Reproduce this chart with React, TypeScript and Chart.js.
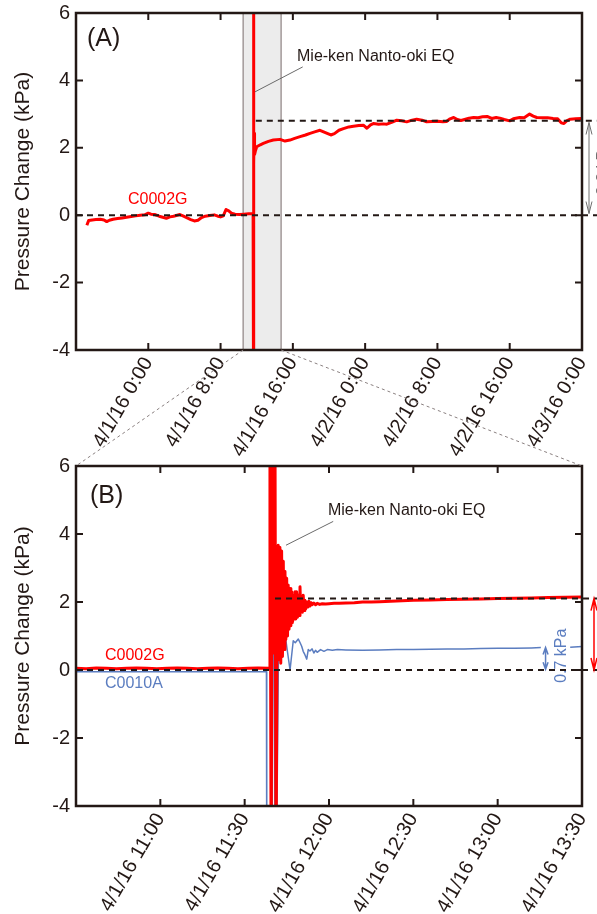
import React, { useEffect, useRef } from 'react';
import { Chart, registerables } from 'chart.js';

Chart.register(...registerables);

const FONT = "'Liberation Sans', Arial, Helvetica, sans-serif";
const INK = '#231815';
const RED = '#ff0000';
const BLUE = '#5b7dc0';
const GRAY = '#8a8080';

// ---------------- Panel (A): hours from 4/1/16 0:00 ----------------
const hoursA = [
  -6.8, -6.6, -6.2, -5.8, -5.3, -4.9, -4.6, -4.3, -3.9, -3.4,
  -2.9, -2.4, -1.9, -1.4, -0.9, -0.4, 0.0, 0.3, 0.7, 1.2,
  1.6, 2.0, 2.4, 2.8, 3.2, 3.5, 3.9, 4.3, 4.7, 5.1,
  5.5, 5.9, 6.3, 6.8, 7.3, 7.7, 8.0, 8.3, 8.6, 8.9,
  9.2, 9.6, 10.1, 10.6, 11.1, 11.6, 11.64, 11.65, 11.66, 11.67,
  11.68, 11.69, 11.72, 11.76, 11.85, 12.0, 12.4, 12.73, 13.3, 13.84,
  14.58, 15.13, 15.68, 16.2, 16.8, 17.4, 17.9, 18.5, 19.0, 19.6,
  20.2, 20.6, 21.1, 21.6, 22.2, 22.7, 23.3, 23.8, 24.2, 24.6,
  24.9, 25.5, 26.0, 26.4, 27.0, 27.5, 28.0, 28.6, 29.2, 29.7,
  30.3, 30.8, 31.4, 32.0, 32.6, 33.0, 33.4, 33.8, 34.2, 34.6,
  35.0, 35.5, 36.0, 36.5, 37.0, 37.5, 38.0, 38.5, 38.9, 39.4,
  40.0, 40.4, 41.1, 41.6, 42.2, 42.6, 43.0, 43.6, 44.2, 44.8,
  45.3, 45.7, 46.0, 46.3, 46.7, 47.3, 47.96,
];
const c0002gA = [
  -0.30, -0.16, -0.14, -0.13, -0.12, -0.14, -0.19, -0.15, -0.12, -0.10,
  -0.08, -0.06, -0.04, -0.02, 0.00, 0.01, 0.06, 0.03, 0.02, -0.03,
  -0.06, -0.09, -0.05, -0.03, 0.00, 0.02, -0.03, -0.08, -0.13, -0.17,
  -0.15, -0.07, -0.03, -0.01, 0.01, -0.03, -0.05, -0.02, 0.17, 0.13,
  0.06, 0.03, 0.02, 0.03, 0.04, 0.05, 0.05, 9.0, -7.0, 9.0,
  -7.0, 1.55, 2.43, 1.80, 1.90, 2.03, 2.09, 2.13, 2.19, 2.23,
  2.25, 2.20, 2.23, 2.28, 2.33, 2.38, 2.43, 2.48, 2.52, 2.45,
  2.38, 2.42, 2.52, 2.57, 2.62, 2.64, 2.66, 2.67, 2.58, 2.68,
  2.72, 2.70, 2.71, 2.70, 2.76, 2.82, 2.80, 2.77, 2.82, 2.85,
  2.82, 2.77, 2.78, 2.79, 2.77, 2.78, 2.86, 2.90, 2.84, 2.81,
  2.84, 2.88, 2.90, 2.89, 2.92, 2.93, 2.87, 2.90, 2.88, 2.84,
  2.80, 2.86, 2.90, 2.89, 3.00, 2.94, 2.90, 2.89, 2.89, 2.87,
  2.86, 2.74, 2.72, 2.80, 2.85, 2.86, 2.87,
];
const xRangeA = [-8, 48];
const xTicksA = [-8, 0, 8, 16, 24, 32, 40, 48];
const xTickLabelsA = ['', '4/1/16 0:00', '4/1/16 8:00', '4/1/16 16:00', '4/2/16 0:00', '4/2/16 8:00', '4/2/16 16:00', '4/3/16 0:00'];
const zoomWindowA = [10.5, 14.7];
const offsetLevelA = 2.8;

// ---------------- Panel (B): hours of day, 4/1/16 ----------------
const hoursB = [
  10.50, 10.56, 10.62, 10.68, 10.74, 10.80, 10.86, 10.92, 10.98, 11.04,
  11.10, 11.16, 11.22, 11.28, 11.34, 11.40, 11.46, 11.52, 11.58, 11.645,
  11.650, 11.657, 11.665, 11.672, 11.680, 11.686, 11.692,
  11.699, 11.704, 11.709, 11.714, 11.719, 11.724, 11.729, 11.734, 11.739, 11.744,
  11.749, 11.754, 11.758, 11.763, 11.769, 11.774, 11.779, 11.784, 11.788, 11.793,
  11.798, 11.803, 11.808, 11.813, 11.818, 11.823, 11.828, 11.833, 11.838, 11.843,
  11.847, 11.852, 11.857, 11.862, 11.868, 11.875, 11.881, 11.887, 11.894, 11.900,
  11.910, 11.920, 11.930, 11.945, 11.960, 11.980, 12.000, 12.030, 12.060, 12.100,
  12.150, 12.200, 12.250, 12.300, 12.400, 12.500, 12.600, 12.700, 12.800, 12.900,
  13.000, 13.100, 13.200, 13.300, 13.400, 13.500,
];
const c0002gB = [
  0.05, 0.04, 0.06, 0.05, 0.04, 0.05, 0.06, 0.05, 0.04, 0.05,
  0.06, 0.05, 0.04, 0.05, 0.06, 0.05, 0.04, 0.05, 0.06, 0.05,
  8.0, -6.0, 8.0, 0.5, 6.5, -6.0, 1.0,
  3.67, 0.30, 3.60, 0.20, 3.50, 0.40, 3.20, 0.60, 2.90, 0.90,
  2.70, 1.00, 2.50, 1.20, 2.40, 1.30, 2.30, 1.40, 2.20, 1.50,
  2.30, 1.50, 2.30, 1.55, 2.20, 1.60, 2.45, 1.70, 2.10, 1.70,
  2.20, 1.75, 2.05, 1.80, 2.00, 1.85, 2.02, 1.88, 1.98, 1.92,
  1.97, 1.92, 1.96, 1.93, 1.95, 1.94, 1.95, 1.96, 1.96, 1.97,
  1.98, 2.00, 2.00, 2.01, 2.03, 2.05, 2.06, 2.07, 2.08, 2.09,
  2.10, 2.11, 2.12, 2.13, 2.14, 2.15,
];
const hoursB2 = [
  10.50, 10.70, 10.90, 11.10, 11.30, 11.50, 11.629, 11.631, 11.662, 11.668,
  11.676, 11.680, 11.688, 11.700, 11.719, 11.739, 11.769, 11.788, 11.800, 11.818,
  11.828, 11.838, 11.847, 11.857, 11.868, 11.877, 11.887, 11.900, 11.910, 11.920,
  11.930, 11.950, 11.970, 11.990, 12.020, 12.050, 12.100, 12.200, 12.300, 12.400,
  12.500, 12.600, 12.700, 12.800, 12.900, 13.000, 13.100, 13.200, 13.256, 13.350,
  13.430, 13.500,
];
const c0010aB = [
  -0.05, -0.05, -0.05, -0.05, -0.05, -0.05, -0.05, -6.0, -6.0, 0.80,
  1.60, -6.0, -6.0, 0.27, 0.67, 1.06, 0.00, 0.86, 0.80, 0.91,
  0.81, 0.70, 0.55, 0.45, 0.32, 0.60, 0.56, 0.62, 0.50, 0.58,
  0.52, 0.60, 0.55, 0.60, 0.58, 0.60, 0.59, 0.58, 0.59, 0.60,
  0.60, 0.61, 0.62, 0.62, 0.63, 0.64, 0.64, 0.65, 0.66, null,
  0.67, 0.69,
];
const xRangeB = [10.5, 13.5];
const xTicksB = [10.5, 11, 11.5, 12, 12.5, 13, 13.5];
const xTickLabelsB = ['', '4/1/16 11:00', '4/1/16 11:30', '4/1/16 12:00', '4/1/16 12:30', '4/1/16 13:00', '4/1/16 13:30'];
const offsetLevelB = 2.1;
const levelB_A = 0.66;

const yRange = [-4, 6];
const yTicks = [-4, -2, 0, 2, 4, 6];
const yTickLabels = ['-4', '-2', '0', '2', '4', '6'];
const yTitle = 'Pressure Change (kPa)';
const eqLabel = 'Mie-ken Nanto-oki EQ';

const toPoints = (xs: number[], ys: (number | null)[]) => xs.map((x, i) => ({ x, y: ys[i] }));

type TextDeco = { text: string; x?: number; dxRight?: number; y: number; color: string; size: number; rotate?: boolean; align?: CanvasTextAlign };
type Deco = {
  letter: string;
  letterDx: number;
  letterDy: number;
  shade?: number[];
  dashes: { y: number; from?: number }[];
  texts: TextDeco[];
  leaders: number[][];
  arrows: { x?: number; dxRight?: number; y1: number; y2: number; color: string; width: number; head: number; half: number }[];
};

function drawArrow(ctx: CanvasRenderingContext2D, x: number, yTop: number, yBot: number, color: string, width: number, head: number, half: number) {
  ctx.save();
  ctx.strokeStyle = color;
  ctx.lineWidth = width;
  ctx.setLineDash([]);
  ctx.beginPath();
  ctx.moveTo(x, yTop);
  ctx.lineTo(x, yBot);
  ctx.moveTo(x - half, yTop + head);
  ctx.lineTo(x, yTop);
  ctx.lineTo(x + half, yTop + head);
  ctx.moveTo(x - half, yBot - head);
  ctx.lineTo(x, yBot);
  ctx.lineTo(x + half, yBot - head);
  ctx.stroke();
  ctx.restore();
}

function panelPlugin(deco: Deco, xTicks: number[]) {
  return {
    id: 'panelDeco',
    beforeDatasetsDraw(chart: any) {
      if (!deco.shade) return;
      const { ctx, chartArea } = chart;
      const xs = chart.scales.x;
      const a = xs.getPixelForValue(deco.shade[0]);
      const b = xs.getPixelForValue(deco.shade[1]);
      ctx.save();
      ctx.fillStyle = '#ececec';
      ctx.fillRect(a, chartArea.top, b - a, chartArea.bottom - chartArea.top);
      ctx.strokeStyle = '#a39a9a';
      ctx.lineWidth = 1.5;
      ctx.beginPath();
      ctx.moveTo(a, chartArea.top);
      ctx.lineTo(a, chartArea.bottom);
      ctx.moveTo(b, chartArea.top);
      ctx.lineTo(b, chartArea.bottom);
      ctx.stroke();
      ctx.restore();
    },
    afterDatasetsDraw(chart: any) {
      const { ctx, chartArea } = chart;
      const { left, right, top, bottom } = chartArea;
      const xs = chart.scales.x;
      const ys = chart.scales.y;
      ctx.save();
      // dashed reference levels
      ctx.strokeStyle = INK;
      ctx.lineWidth = 2;
      ctx.setLineDash([6, 5]);
      deco.dashes.forEach((d) => {
        const py = ys.getPixelForValue(d.y);
        const px = d.from === undefined ? left : xs.getPixelForValue(d.from);
        ctx.beginPath();
        ctx.moveTo(px, py);
        ctx.lineTo(chart.width, py);
        ctx.stroke();
      });
      ctx.setLineDash([]);
      // frame
      ctx.strokeStyle = INK;
      ctx.lineWidth = 2.5;
      ctx.strokeRect(left, top, right - left, bottom - top);
      // inward ticks
      ctx.lineWidth = 2;
      ctx.beginPath();
      xTicks.forEach((v) => {
        const px = xs.getPixelForValue(v);
        if (px <= left + 1 || px >= right - 1) return;
        ctx.moveTo(px, bottom);
        ctx.lineTo(px, bottom - 7);
        ctx.moveTo(px, top);
        ctx.lineTo(px, top + 7);
      });
      yTicks.forEach((v) => {
        const py = ys.getPixelForValue(v);
        if (py <= top + 1 || py >= bottom - 1) return;
        ctx.moveTo(left, py);
        ctx.lineTo(left + 7, py);
        ctx.moveTo(right, py);
        ctx.lineTo(right - 7, py);
      });
      ctx.stroke();
      // leader lines
      ctx.strokeStyle = '#6a6a6a';
      ctx.lineWidth = 1;
      deco.leaders.forEach((l) => {
        ctx.beginPath();
        ctx.moveTo(xs.getPixelForValue(l[0]), ys.getPixelForValue(l[1]));
        ctx.lineTo(xs.getPixelForValue(l[2]), ys.getPixelForValue(l[3]));
        ctx.stroke();
      });
      // arrows
      deco.arrows.forEach((a) => {
        const px = a.x !== undefined ? xs.getPixelForValue(a.x) : right + (a.dxRight || 0);
        drawArrow(ctx, px, ys.getPixelForValue(a.y1), ys.getPixelForValue(a.y2), a.color, a.width, a.head, a.half);
      });
      // texts
      deco.texts.forEach((t) => {
        const px = t.x !== undefined ? xs.getPixelForValue(t.x) : right + (t.dxRight || 0);
        const py = ys.getPixelForValue(t.y);
        ctx.save();
        ctx.fillStyle = t.color;
        ctx.font = `${t.size}px ${FONT}`;
        ctx.textBaseline = 'middle';
        ctx.textAlign = t.align || 'left';
        ctx.translate(px, py);
        if (t.rotate) ctx.rotate(-Math.PI / 2);
        ctx.fillText(t.text, 0, 0);
        ctx.restore();
      });
      // panel letter
      ctx.fillStyle = INK;
      ctx.font = `25px ${FONT}`;
      ctx.textAlign = 'left';
      ctx.textBaseline = 'middle';
      ctx.fillText(deco.letter, left + deco.letterDx, top + deco.letterDy);
      ctx.restore();
    },
  };
}

function makeConfig(p: any) {
  return {
    type: 'line',
    data: { datasets: p.datasets },
    options: {
      responsive: false,
      animation: false,
      devicePixelRatio: 1,
      events: [],
      layout: { padding: { top: p.padTop, bottom: p.padBottom, left: 0, right: 15 } },
      plugins: { legend: { display: false }, tooltip: { enabled: false } },
      elements: { point: { radius: 0 }, line: { tension: 0, borderJoinStyle: 'round' } },
      scales: {
        x: {
          type: 'linear',
          min: p.xRange[0],
          max: p.xRange[1],
          afterFit: (s: any) => {
            s.height = p.xAxisHeight;
            s.paddingLeft = 0;
            s.paddingRight = 0;
          },
          afterBuildTicks: (s: any) => { s.ticks = p.xTicks.map((v: number) => ({ value: v })); },
          grid: { display: false, drawTicks: false },
          border: { display: false },
          ticks: {
            autoSkip: false,
            minRotation: 60,
            maxRotation: 60,
            padding: 3,
            color: INK,
            font: { family: FONT, size: 20 },
            callback: (_v: any, i: number) => p.xTickLabels[i],
          },
        },
        y: {
          type: 'linear',
          min: yRange[0],
          max: yRange[1],
          afterFit: (s: any) => {
            s.width = 76;
            s.paddingTop = 0;
            s.paddingBottom = 0;
          },
          afterBuildTicks: (s: any) => { s.ticks = yTicks.map((v) => ({ value: v })); },
          grid: { display: false, drawTicks: false },
          border: { display: false },
          ticks: {
            padding: 6,
            color: INK,
            font: { family: FONT, size: 20 },
            callback: (_v: any, i: number) => yTickLabels[i],
          },
          title: {
            display: true,
            text: yTitle,
            color: INK,
            font: { family: FONT, size: 21 },
            padding: { top: 11, bottom: 0 },
          },
        },
      },
    },
    plugins: [panelPlugin(p.deco, p.xTicks), ...(p.extra || [])],
  };
}

const decoA: Deco = {
  letter: '(A)',
  letterDx: 11,
  letterDy: 26,
  shade: zoomWindowA,
  dashes: [{ y: 0 }, { y: offsetLevelA, from: 11.9 }],
  leaders: [[11.81, 3.66, 17.09, 4.4]],
  arrows: [{ dxRight: 7, y1: 2.75, y2: 0.05, color: '#707070', width: 1, head: 12, half: 3 }],
  texts: [
    { text: 'C0002G', x: -2.25, y: 0.45, color: RED, size: 16 },
    { text: eqLabel, x: 16.46, y: 4.72, color: INK, size: 16 },
    { text: '2.8 kPa', dxRight: 22, y: 1.4, color: '#707070', size: 16, rotate: true, align: 'center' },
  ],
};

const decoB: Deco = {
  letter: '(B)',
  letterDx: 14,
  letterDy: 30,
  dashes: [{ y: 0 }, { y: offsetLevelB, from: 11.68 }],
  leaders: [[11.745, 3.67, 12.025, 4.37]],
  arrows: [
    { dxRight: 12, y1: offsetLevelB, y2: 0, color: RED, width: 1.5, head: 12, half: 3 },
    { x: 13.284, y1: levelB_A, y2: 0.02, color: BLUE, width: 1.5, head: 7, half: 2.5 },
  ],
  texts: [
    { text: 'C0002G', x: 10.672, y: 0.42, color: RED, size: 16 },
    { text: 'C0010A', x: 10.672, y: -0.4, color: BLUE, size: 16 },
    { text: eqLabel, x: 11.994, y: 4.7, color: INK, size: 16 },
    { text: '0.7 kPa', x: 13.379, y: 0.42, color: BLUE, size: 16, rotate: true, align: 'center' },
  ],
};

export default function App() {
  const refA = useRef<HTMLCanvasElement>(null);
  const refB = useRef<HTMLCanvasElement>(null);

  useEffect(() => {
    const chartB = new Chart(refB.current as HTMLCanvasElement, makeConfig({
      datasets: [
        { label: 'C0002G', data: toPoints(hoursB, c0002gB), borderColor: RED, borderWidth: 3, fill: false },
        { label: 'C0010A', data: toPoints(hoursB2, c0010aB), borderColor: BLUE, borderWidth: 1.5, fill: false },
      ],
      xRange: xRangeB,
      xTicks: xTicksB,
      xTickLabels: xTickLabelsB,
      padTop: 466,
      padBottom: 0,
      xAxisHeight: 108,
      deco: decoB,
    }) as any);

    const connector = {
      id: 'zoomConnector',
      afterDraw(chart: any) {
        const { ctx, chartArea } = chart;
        const xs = chart.scales.x;
        const b = chartB.chartArea;
        ctx.save();
        ctx.strokeStyle = GRAY;
        ctx.lineWidth = 1;
        ctx.setLineDash([3, 3]);
        ctx.beginPath();
        ctx.moveTo(xs.getPixelForValue(zoomWindowA[0]), chartArea.bottom);
        ctx.lineTo(b.left, b.top);
        ctx.moveTo(xs.getPixelForValue(zoomWindowA[1]), chartArea.bottom);
        ctx.lineTo(b.right, b.top);
        ctx.stroke();
        ctx.restore();
      },
    };

    const chartA = new Chart(refA.current as HTMLCanvasElement, makeConfig({
      datasets: [
        { label: 'C0002G', data: toPoints(hoursA, c0002gA), borderColor: RED, borderWidth: 3, fill: false },
      ],
      xRange: xRangeA,
      xTicks: xTicksA,
      xTickLabels: xTickLabelsA,
      padTop: 13,
      padBottom: 444,
      xAxisHeight: 120,
      deco: decoA,
      extra: [connector],
    }) as any);

    return () => {
      chartA.destroy();
      chartB.destroy();
    };
  }, []);

  const canvasStyle: React.CSSProperties = { position: 'absolute', left: 0, top: 0, width: 597, height: 914 };
  return (
    <div style={{ position: 'absolute', left: 0, top: 0, width: 597, height: 914, background: '#ffffff', overflow: 'hidden' }}>
      <canvas ref={refB} width={597} height={914} style={canvasStyle} />
      <canvas ref={refA} width={597} height={914} style={canvasStyle} />
    </div>
  );
}
